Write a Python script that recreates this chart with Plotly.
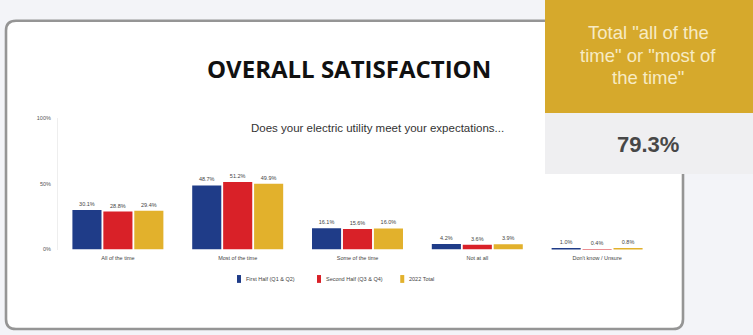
import plotly.graph_objects as go

# Survey answers and results per period
categories = ["All of the time", "Most of the time", "Some of the time", "Not at all", "Don't know / Unsure"]
series_names = ["First Half (Q1 & Q2)", "Second Half (Q3 & Q4)", "2022 Total"]
first_half = [30.1, 48.7, 16.1, 4.2, 1.0]
second_half = [28.8, 51.2, 15.6, 3.6, 0.4]
total_2022 = [29.4, 49.9, 16.0, 3.9, 0.8]
y_ticks = [0, 50, 100]
y_tick_labels = ["0%", "50%", "100%"]
headline_lines = ['Total "all of the', 'time" or "most of', 'the time"']
headline_value = "79.3%"

colors = ["#1f3c88", "#d92128", "#e2b12c"]
W, H = 753, 335


def px(x):
    return x / W


def py(y):
    return 1 - y / H


fig = go.Figure()
for name, vals, col in zip(series_names, [first_half, second_half, total_2022], colors):
    fig.add_trace(go.Bar(
        x=categories, y=vals, name=name, marker=dict(color=col, line=dict(width=0)),
        texttemplate="%{y:.1f}%", textposition="outside",
        textfont=dict(size=5.5, color="#444", family="Liberation Sans"),
        cliponaxis=False, showlegend=False,
    ))

shapes = []
# card with rounded corners
x0, y0, x1, y1, r = 6, 18, 683, 332, 10
card_path = (f"M {px(x0+r)},{py(y0)} L {px(x1-r)},{py(y0)} "
             f"Q {px(x1)},{py(y0)} {px(x1)},{py(y0+r)} L {px(x1)},{py(y1-r)} "
             f"Q {px(x1)},{py(y1)} {px(x1-r)},{py(y1)} L {px(x0+r)},{py(y1)} "
             f"Q {px(x0)},{py(y1)} {px(x0)},{py(y1-r)} L {px(x0)},{py(y0+r)} "
             f"Q {px(x0)},{py(y0)} {px(x0+r)},{py(y0)} Z")
shapes.append(dict(type="path", xref="paper", yref="paper", path=card_path,
                   fillcolor="white", line=dict(color="#959595", width=2.6), layer="below"))
# headline boxes
shapes.append(dict(type="rect", xref="paper", yref="paper", x0=px(545), x1=px(760),
                   y0=py(112), y1=py(-5), fillcolor="#d6a92c", line=dict(width=0), layer="below"))
shapes.append(dict(type="rect", xref="paper", yref="paper", x0=px(545), x1=px(760),
                   y0=py(174), y1=py(112), fillcolor="#efeff1", line=dict(width=0), layer="below"))

annotations = [
    dict(text="<b>OVERALL SATISFACTION</b>", x=px(349), y=py(67), xref="paper", yref="paper",
         showarrow=False, font=dict(size=24, color="#111", family="Open Sans"), xanchor="center", yanchor="middle"),
    dict(text="Does your electric utility meet your expectations...", x=px(377), y=py(127),
         xref="paper", yref="paper", showarrow=False,
         font=dict(size=11.5, color="#333", family="Liberation Sans"), xanchor="center", yanchor="middle"),
    dict(text="<b>" + headline_value + "</b>", x=px(648), y=py(144), xref="paper", yref="paper", showarrow=False,
         font=dict(size=22, color="#474747", family="Liberation Sans"), xanchor="center", yanchor="middle"),
]
for i, line in enumerate(headline_lines):
    annotations.append(dict(text=line, x=px(648), y=py(30 + 23 * i), xref="paper", yref="paper",
                            showarrow=False, xanchor="center", yanchor="middle",
                            font=dict(size=18.5, color="#f7ebc4", family="Liberation Sans")))

# compact legend
leg_x = 237
for name, col in zip(series_names, colors):
    shapes.append(dict(type="rect", xref="paper", yref="paper", x0=px(leg_x), x1=px(leg_x + 4),
                       y0=py(285), y1=py(277), fillcolor=col, line=dict(width=0)))
    annotations.append(dict(text=name, x=px(leg_x + 7), y=py(281), xref="paper", yref="paper",
                            showarrow=False, xanchor="left", yanchor="middle",
                            font=dict(size=5.5, color="#444", family="Liberation Sans")))
    leg_x += 7 + len(name) * 3.25 + 8

fig.update_layout(
    width=W, height=H, margin=dict(l=0, r=0, t=0, b=0),
    paper_bgcolor="#f3f4f8", plot_bgcolor="rgba(0,0,0,0)",
    barmode="group", bargap=0.225, bargroupgap=0.06,
    shapes=shapes, annotations=annotations,
    xaxis=dict(domain=[px(58), px(657)], showgrid=False, showline=False, ticks="",
               tickfont=dict(size=5.5, color="#444", family="Liberation Sans"), ticklabelstandoff=4),
    yaxis=dict(domain=[py(251), py(117)], range=[0, 100], tickvals=y_ticks, ticktext=y_tick_labels,
               showgrid=False, zeroline=False, showline=True, linecolor="#eeeeee", linewidth=1,
               ticklabelstandoff=5,
               tickfont=dict(size=5.5, color="#555", family="Liberation Sans")),
)

fig.write_html("out.html")
